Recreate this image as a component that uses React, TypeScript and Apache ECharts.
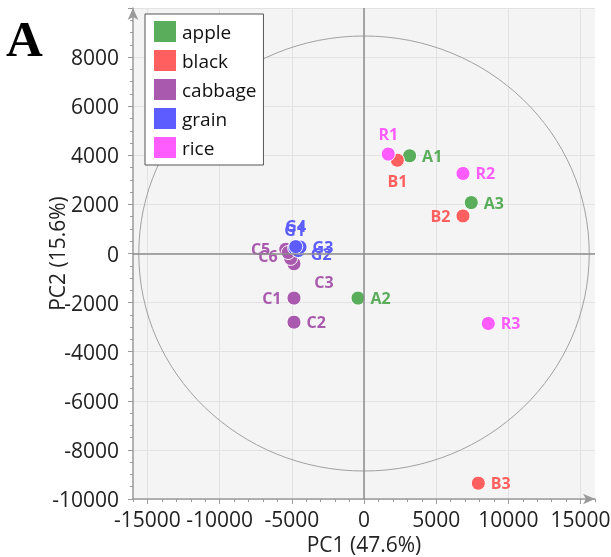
import React, { useEffect, useRef } from "react";
import * as echarts from "echarts";

// ---- data ----
const groups = ["apple", "black", "cabbage", "grain", "rice"];
const groupColors = ["#5aad5a", "#ff5f5f", "#a95aae", "#5c5cff", "#ff5cff"];

const appleNames = ["A1", "A2", "A3"];
const appleX = [3160, -415, 7430];
const appleY = [3980, -1816, 2073];

const blackNames = ["B1", "B2", "B3"];
const blackX = [2310, 6856, 7918];
const blackY = [3800, 1530, -9355];

const cabbageNames = ["C1", "C2", "C3", "C4", "C5", "C6"];
const cabbageX = [-4850, -4850, -4850, -5080, -5420, -5250];
const cabbageY = [-1816, -2796, -420, -200, 170, 40];

const grainNames = ["G1", "G2", "G3", "G4"];
const grainX = [-4800, -4550, -4430, -4730];
const grainY = [220, 120, 260, 280];

const riceNames = ["R1", "R2", "R3"];
const riceX = [1680, 6856, 8610];
const riceY = [4050, 3260, -2850];

const xMajorTicks = [-15000, -10000, -5000, 0, 5000, 10000, 15000];
const xMin = -16000;
const xMax = 16000;
const yMin = -10000;
const yMax = 10000;

const ellipseRadiusX = 15600;
const ellipseRadiusY = 8860;

const xAxisTitle = "PC1 (47.6%)";
const yAxisTitle = "PC2 (15.6%)";
const panelLetter = "A";

// label placement (style only)
const labelLayout: Record<string, { position: string; offset?: number[]; show?: boolean }> = {
  A1: { position: "right" },
  A2: { position: "right" },
  A3: { position: "right" },
  B1: { position: "bottom" },
  B2: { position: "left" },
  B3: { position: "right" },
  R1: { position: "top" },
  R2: { position: "right" },
  R3: { position: "right" },
  C1: { position: "left" },
  C2: { position: "right" },
  C3: { position: "bottom", offset: [30, -2] },
  C4: { position: "left", show: false },
  C5: { position: "left", offset: [-3, 0] },
  C6: { position: "left", offset: [2, 3] },
  G1: { position: "top", offset: [0, 2] },
  G2: { position: "right", offset: [0, 3] },
  G3: { position: "right" },
  G4: { position: "top" },
};

const FONT = "'Open Sans', 'Noto Sans', sans-serif";

function buildSeries(names: string[], xs: number[], ys: number[], idx: number) {
  const color = groupColors[idx];
  return {
    name: groups[idx],
    type: "scatter",
    symbol: "circle",
    symbolSize: 14,
    itemStyle: { color, borderColor: "#ffffff", borderWidth: 1, opacity: 1 },
    label: {
      show: true,
      formatter: "{b}",
      color,
      fontSize: 16,
      fontWeight: "bold",
      fontFamily: FONT,
      distance: 5,
    },
    data: names.map((n, i) => {
      const l = labelLayout[n] || { position: "right" };
      return {
        name: n,
        value: [xs[i], ys[i]],
        label: {
          show: l.show !== false,
          position: l.position,
          offset: l.offset || [0, 0],
        },
      };
    }),
  };
}

const plain = (v: number) => String(v);

export default function App() {
  const ref = useRef<HTMLDivElement>(null);

  useEffect(() => {
    if (!ref.current) return;
    const chart = echarts.init(ref.current, undefined, { renderer: "svg" });

    const series: any[] = [
      buildSeries(appleNames, appleX, appleY, 0),
      buildSeries(blackNames, blackX, blackY, 1),
      buildSeries(cabbageNames, cabbageX, cabbageY, 2),
      buildSeries(grainNames, grainX, grainY, 3),
      buildSeries(riceNames, riceX, riceY, 4),
    ];
    series[0].markLine = {
      silent: true,
      symbol: ["none", "none"],
      label: { show: false },
      lineStyle: { color: "#8c8c8c", width: 1.5, type: "solid" },
      data: [{ xAxis: 0 }, { yAxis: 0 }],
    };

    const axisGray = "#9a9a9a";

    chart.setOption({
      animation: false,
      textStyle: { fontFamily: FONT },
      grid: {
        left: 133,
        right: 16,
        top: 8,
        bottom: 58,
        show: true,
        backgroundColor: "#f4f4f4",
        borderWidth: 0,
        outerBoundsMode: "none",
        containLabel: false,
      },
      legend: {
        orient: "vertical",
        left: 145,
        top: 14,
        data: groups,
        icon: "rect",
        itemWidth: 24,
        itemHeight: 23,
        itemGap: 4,
        padding: [5, 7, 5, 7],
        backgroundColor: "#ffffff",
        borderColor: "#555555",
        borderWidth: 1,
        selectedMode: false,
        textStyle: { fontSize: 19, lineHeight: 23, color: "#111", fontFamily: FONT },
      },
      xAxis: [
        {
          type: "value",
          min: xMin,
          max: xMax,
          interval: 1000,
          position: "bottom",
          name: xAxisTitle,
          nameLocation: "middle",
          nameGap: 31,
          nameTextStyle: { fontSize: 21, color: "#222", fontFamily: FONT },
          axisLine: {
            show: true,
            onZero: false,
            symbol: ["none", "arrow"],
            symbolSize: [8, 12],
            lineStyle: { color: axisGray, width: 1.5 },
          },
          axisTick: { show: true, length: 5, customValues: xMajorTicks, lineStyle: { color: axisGray } },
          axisLabel: { customValues: xMajorTicks, fontSize: 21, color: "#222", margin: 9, formatter: plain },
          splitLine: { show: true, lineStyle: { color: "#e2e2e2", width: 1 } },
        },
        {
          type: "value",
          min: xMin,
          max: xMax,
          interval: 1000,
          position: "bottom",
          axisLine: { show: false, onZero: false },
          axisTick: { show: true, length: 3, lineStyle: { color: axisGray } },
          axisLabel: { show: false },
          splitLine: { show: false },
        },
      ],
      yAxis: {
        type: "value",
        min: yMin,
        max: yMax,
        interval: 2000,
        name: yAxisTitle,
        nameLocation: "middle",
        nameGap: 66,
        nameMoveOverlap: false,
        nameTextStyle: { fontSize: 21, color: "#222", fontFamily: FONT },
        axisLine: {
          show: true,
          onZero: false,
          symbol: ["none", "arrow"],
          symbolSize: [8, 12],
          lineStyle: { color: axisGray, width: 1.5 },
        },
        axisTick: { show: true, length: 5, lineStyle: { color: axisGray } },
        minorTick: { show: true, splitNumber: 4, length: 3, lineStyle: { color: axisGray } },
        axisLabel: { fontSize: 21, color: "#222", margin: 14, showMaxLabel: false, formatter: plain },
        splitLine: { show: true, lineStyle: { color: "#e2e2e2", width: 1 } },
      },
      series,
      graphic: [
        {
          id: "panel",
          type: "text",
          left: 6,
          top: 13,
          style: {
            text: panelLetter,
            font: "bold 51px 'Liberation Serif', 'DejaVu Serif', serif",
            fill: "#000",
          },
        },
      ],
    });

    const c = chart.convertToPixel({ xAxisIndex: 0, yAxisIndex: 0 }, [0, 0]) as number[];
    const e = chart.convertToPixel({ xAxisIndex: 0, yAxisIndex: 0 }, [ellipseRadiusX, ellipseRadiusY]) as number[];
    if (c && e) {
      chart.setOption({
        graphic: [
          {
            id: "ellipse",
            type: "ellipse",
            silent: true,
            z: 1,
            shape: { cx: c[0], cy: c[1], rx: e[0] - c[0], ry: c[1] - e[1] },
            style: { fill: "none", stroke: "#a0a0a0", lineWidth: 1 },
          },
        ],
      });
    }

    return () => chart.dispose();
  }, []);

  return (
    <div
      ref={ref}
      style={{ position: "fixed", left: 0, top: 0, width: 611, height: 557 }}
    />
  );
}
